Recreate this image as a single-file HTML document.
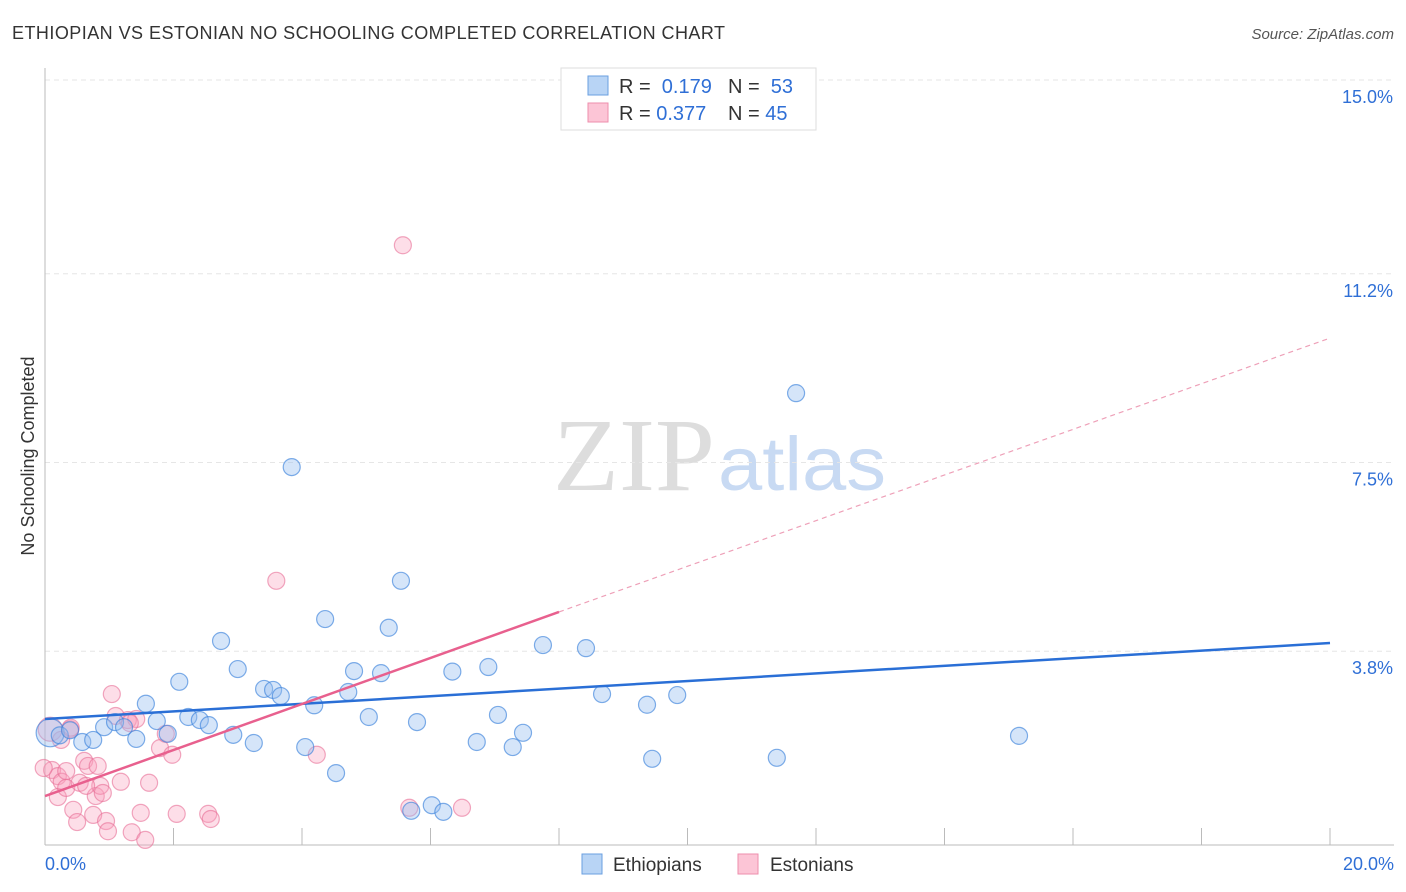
<!DOCTYPE html>
<html><head><meta charset="utf-8"><style>
body{margin:0;background:#fff;font-family:"Liberation Sans",sans-serif;}
svg{display:block}
</style></head><body>
<svg id="c" width="1406" height="892" xmlns="http://www.w3.org/2000/svg">
<text x="12" y="39" font-size="18" fill="#333" textLength="713" lengthAdjust="spacing">ETHIOPIAN VS ESTONIAN NO SCHOOLING COMPLETED CORRELATION CHART</text>
<text x="1394" y="39" font-size="15" fill="#555" font-style="italic" text-anchor="end">Source: ZipAtlas.com</text>
<text x="553" y="490" font-size="104" fill="#ddd" font-family="Liberation Serif,serif" textLength="162" lengthAdjust="spacingAndGlyphs">ZIP</text>
<text x="718" y="490" font-size="76" fill="#c8daf3" textLength="168" lengthAdjust="spacingAndGlyphs">atlas</text>
<text transform="translate(34,456) rotate(-90)" font-size="18" fill="#333" text-anchor="middle">No Schooling Completed</text>
<g id="grid"></g><g id="pts"></g><g id="lines"></g>
<g>
<rect x="561" y="68" width="255" height="62" fill="#fff" stroke="#ddd"/>
<rect x="588" y="76" width="20" height="19" fill="#b8d4f5" stroke="#6a9fe0"/>
<rect x="588" y="103" width="20" height="19" fill="#fcc5d6" stroke="#ee8eac"/>
<text x="619" y="93" font-size="20" fill="#333">R = <tspan fill="#2f6fd6">&#160;0.179</tspan></text>
<text x="728" y="93" font-size="20" fill="#333">N = <tspan fill="#2f6fd6">&#160;53</tspan></text>
<text x="619" y="120" font-size="20" fill="#333">R = <tspan fill="#2f6fd6">0.377</tspan></text>
<text x="728" y="120" font-size="20" fill="#333">N = <tspan fill="#2f6fd6">45</tspan></text>
</g>
<g>
<rect x="582" y="854" width="20" height="20" fill="#b8d4f5" stroke="#6a9fe0"/>
<text x="613" y="871" font-size="19" fill="#333">Ethiopians</text>
<rect x="738" y="854" width="20" height="20" fill="#fcc5d6" stroke="#ee8eac"/>
<text x="770" y="871" font-size="19" fill="#333">Estonians</text>
</g>
<text x="45" y="870" font-size="18" fill="#2f6fd6">0.0%</text>
<text x="1394" y="870" font-size="18" fill="#2f6fd6" text-anchor="end">20.0%</text>
</svg>
<script>
const yTicks=[15.0,11.2,7.5,3.8];
const yTickLabels=["15.0%","11.2%","7.5%","3.8%"];
const xTicks=[0,2,4,6,8,10,12,14,16,18,20];
const ethX=[0.08,0.23,0.39,0.58,0.75,0.92,1.09,1.23,1.42,1.57,1.74,1.91,2.09,2.23,2.41,2.55,2.74,2.93,3.0,3.25,3.41,3.55,3.67,3.84,4.05,4.19,4.36,4.53,4.72,4.81,5.04,5.23,5.35,5.54,5.79,6.02,6.2,6.34,6.72,6.9,7.05,7.28,7.44,7.75,8.42,8.67,9.37,9.45,9.84,11.39,11.69,15.16,5.7];
const ethY=[2.2,2.15,2.25,2.02,2.06,2.31,2.41,2.31,2.08,2.77,2.43,2.18,3.2,2.51,2.45,2.35,4.0,2.16,3.45,2.0,3.06,3.04,2.92,7.41,1.92,2.74,4.43,1.41,3.0,3.41,2.51,3.37,4.26,5.18,2.41,0.78,0.65,3.4,2.02,3.49,2.55,1.92,2.2,3.92,3.86,2.96,2.75,1.69,2.94,1.71,8.86,2.14,0.67];
const estX=[0.08,0.11,0.2,0.26,0.33,0.2,0.33,0.39,0.44,0.5,0.54,0.61,0.67,0.75,0.79,0.86,0.9,0.95,0.98,1.04,1.1,1.18,1.29,1.35,1.42,1.49,1.56,1.62,1.79,1.88,1.98,2.05,2.54,2.58,3.6,4.23,5.57,5.67,6.49,0.82,0.64,-0.02,1.32,0.25,0.4];
const estY=[2.27,1.47,1.35,1.24,1.45,0.94,1.12,2.27,0.69,0.45,1.22,1.65,1.55,0.59,0.96,1.16,1.02,0.47,0.27,2.96,2.53,1.24,2.45,0.25,2.47,0.63,0.1,1.22,1.9,2.18,1.77,0.61,0.61,0.51,5.18,1.77,11.76,0.73,0.73,1.55,1.16,1.51,2.39,2.06,2.3];
const ethLine=[[0,2.47],[20,3.96]];
const estLineSolid=[[0,0.96],[8,4.57]];
const estLineDash=[[8,4.57],[20,9.94]];
const NS='http://www.w3.org/2000/svg';
const X0=45,X1=1330,YB=845,YT=80;
const sx=v=>X0+v/20*(X1-X0);
const sy=v=>YB-v/15*(YB-YT);
function mk(tag,attrs,parent){const e=document.createElementNS(NS,tag);for(const k in attrs)e.setAttribute(k,attrs[k]);parent.appendChild(e);return e;}
const grid=document.getElementById('grid');
yTicks.forEach((t,i)=>{
  const l=mk('line',{x1:X0,x2:1394,y1:sy(t),y2:sy(t),stroke:'#e6e6e6','stroke-dasharray':'5,4'},grid);
  
  
  const tx=mk('text',{x:1393,y:sy(t)+23,'font-size':18,fill:'#2f6fd6','text-anchor':'end'},grid);
  tx.textContent=yTickLabels[i];
  
  
});
const ax=mk('line',{x1:X0,x2:X0,y1:68,y2:YB,stroke:'#bbb'},grid);


const bx=mk('line',{x1:X0,x2:1394,y1:YB,y2:YB,stroke:'#bbb'},grid);


xTicks.forEach(t=>{
  const l=mk('line',{x1:sx(t),x2:sx(t),y1:828,y2:YB,stroke:'#bbb'},grid);
  
  
});
const pts=document.getElementById('pts');
estX.forEach((v,i)=>{
  const c=mk('circle',{cx:sx(v),cy:sy(estY[i]),r:i==0?12:8.5,fill:'rgba(248,160,188,0.35)',stroke:'rgba(232,110,150,0.6)','stroke-width':1.2},pts);
  
  
});
ethX.forEach((v,i)=>{
  const c=mk('circle',{cx:sx(v),cy:sy(ethY[i]),r:i==0?14:8.5,fill:'rgba(150,190,240,0.4)',stroke:'rgba(60,130,220,0.65)','stroke-width':1.2},pts);
  
  
});
const lines=document.getElementById('lines');
const a=mk('line',{x1:sx(ethLine[0][0]),y1:sy(ethLine[0][1]),x2:sx(ethLine[1][0]),y2:sy(ethLine[1][1]),stroke:'#2a6fd6','stroke-width':2.5},lines);


const b=mk('line',{x1:sx(estLineSolid[0][0]),y1:sy(estLineSolid[0][1]),x2:sx(estLineSolid[1][0]),y2:sy(estLineSolid[1][1]),stroke:'#e8608e','stroke-width':2.5},lines);


const d=mk('line',{x1:sx(estLineDash[0][0]),y1:sy(estLineDash[0][1]),x2:sx(estLineDash[1][0]),y2:sy(estLineDash[1][1]),stroke:'#eea0b8','stroke-width':1.2,'stroke-dasharray':'5,4'},lines);


</script>
</body></html>
